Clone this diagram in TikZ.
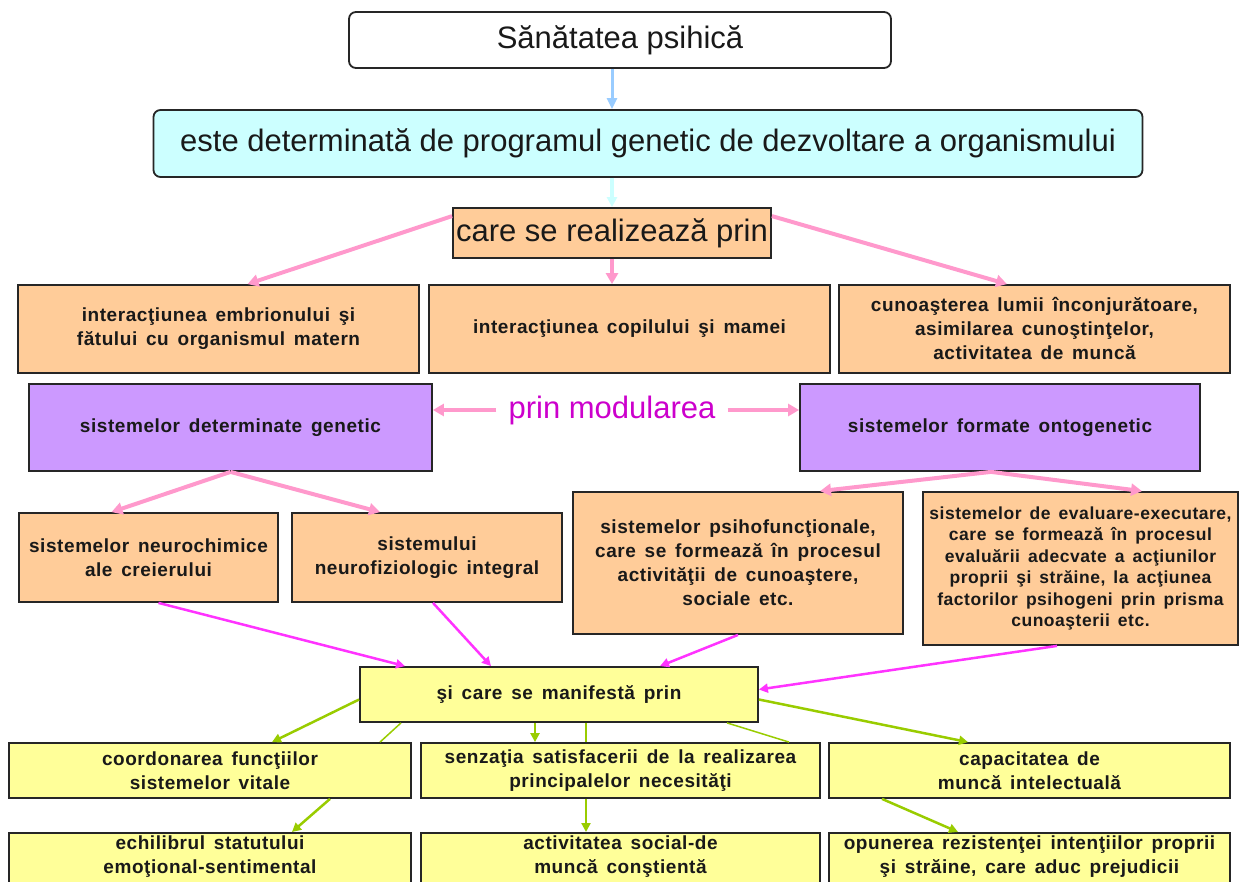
\documentclass[tikz,border=0pt]{standalone}
\usepackage{fontspec}
\setmainfont{Liberation Sans}
\newfontfamily\boxfont[LetterSpace=3,WordSpace=1.5]{Liberation Sans}
\usepackage{tikz}
\usetikzlibrary{arrows.meta}
\definecolor{peach}{HTML}{FFCC99}
\definecolor{lilac}{HTML}{CC99FF}
\definecolor{lemon}{HTML}{FFFF99}
\definecolor{icecyan}{HTML}{CCFFFF}
\definecolor{skyblue}{HTML}{99CCFF}
\definecolor{rosepink}{HTML}{FF99CC}
\definecolor{hotpink}{HTML}{FF33FF}
\definecolor{modviolet}{HTML}{CC00CC}
\definecolor{leafgreen}{HTML}{99CC00}
\tikzset{box/.style={draw=black!85,line width=1.8pt,inner sep=2pt,align=center,text=black!90,
            font=\boxfont\fontsize{19}{24}\selectfont\bfseries},
	 bigbox/.style={box,rounded corners=7pt,font=\fontsize{31}{36}\selectfont},
	 obox/.style={box,fill=peach},
	 vbox/.style={box,fill=lilac},
	 ybox/.style={box,fill=lemon},
	 pinkarr/.style={rosepink,line width=4pt,-{Triangle[length=11pt,width=12pt]}},
	 magarr/.style={hotpink,line width=2.5pt,-{Triangle[length=9pt,width=9pt]}},
	 grnarr/.style={leafgreen,line width=2.5pt,-{Triangle[length=9pt,width=9pt]}},
	 grnline/.style={leafgreen,line width=1.5pt}
	 }
\begin{document}
\begin{tikzpicture}[x=1pt,y=-1pt]% mental health concept map
        \useasboundingbox (0,0) rectangle (1243,882);
        \clip (0,0) rectangle (1243,882);
        \node[bigbox,minimum width=542,minimum height=56] (san) at (620,40) {Sănătatea psihică};
        \node[bigbox,fill=icecyan,minimum width=989,minimum height=67] (gen) at (648,143.5) {este determinată de programul genetic de dezvoltare a organismului};
        \node[obox,font=\fontsize{31}{36}\selectfont,minimum width=318,minimum height=50] (real) at (612,233) {care se realizează prin};
        \node[obox,minimum width=401,minimum height=88] (emb) at (218.5,329) {interacţiunea  embrionului şi\\fătului cu organismul matern};
        \node[obox,minimum width=401,minimum height=88] (cop) at (629.5,329) {interacţiunea  copilului şi mamei};
        \node[obox,minimum width=391,minimum height=88] (cun) at (1034.5,329) {cunoaşterea  lumii înconjurătoare,\\asimilarea  cunoştinţelor,\\activitatea de muncă};
        \node[vbox,minimum width=403,minimum height=87] (det) at (230.5,427.5) {sistemelor  determinate  genetic};
        \node[vbox,minimum width=400,minimum height=87] (ont) at (1000,427.5) {sistemelor  formate  ontogenetic};
        \node[text=modviolet,inner sep=12pt,font=\fontsize{31}{36}\selectfont] (mod) at (612,410) {prin modularea};
        \node[obox,minimum width=259,minimum height=89] (neu) at (148.5,557.5) {sistemelor  neurochimice\\ale creierului};
        \node[obox,minimum width=270,minimum height=89] (fiz) at (427,557.5) {sistemului\\neurofiziologic  integral};
        \node[obox,minimum width=330,minimum height=142] (psi) at (738,563) {sistemelor  psihofuncţionale,\\care  se formează în procesul\\activităţii de cunoaştere,\\sociale  etc.};
        \node[obox,font=\boxfont\fontsize{17.5}{21.5}\selectfont\bfseries,minimum width=315,minimum height=153] (eva) at (1080.5,568.5) {sistemelor  de evaluare-executare,\\care se formează  în  procesul\\evaluării adecvate a acţiunilor\\proprii  şi străine, la acţiunea\\factorilor  psihogeni  prin prisma\\cunoaşterii  etc.};
        \node[ybox,minimum width=398,minimum height=55] (man) at (559,694.5) {şi  care  se  manifestă  prin};
        \node[ybox,minimum width=402,minimum height=55] (coo) at (210,770.5) {coordonarea  funcţiilor\\sistemelor  vitale};
        \node[ybox,minimum width=399,minimum height=55] (sen) at (620.5,770.5) {senzaţia satisfacerii  de la realizarea\\principalelor  necesităţi};
        \node[ybox,minimum width=401,minimum height=55] (cap) at (1029.5,770.5) {capacitatea  de\\muncă intelectuală};
        \node[ybox,anchor=north,inner ysep=3pt,text depth=40pt,minimum width=402] (ech) at (210,832) {echilibrul  statutului\\emoţional-sentimental};
        \node[ybox,anchor=north,inner ysep=3pt,text depth=40pt,minimum width=399] (act) at (620.5,832) {activitatea social-de\\muncă conştientă};
        \node[ybox,anchor=north,inner ysep=3pt,text depth=40pt,minimum width=401] (opu) at (1029.5,832) {opunerea rezistenţei  intenţiilor  proprii\\şi străine, care aduc prejudicii};
        \draw[skyblue,line width=3pt,-{Triangle[length=11pt,width=10pt]}] (san.south -| real.north) to (gen.north -| real.north);
        \draw[icecyan,line width=3.5pt,-{Triangle[length=10pt,width=10pt]}] (gen.south -| real.north) to (real.north);
        \draw[pinkarr] ([yshift=-9pt]real.north west) to ([xshift=29pt]emb.north);
        \draw[pinkarr] (real.south) to (real.south |- cop.north);
        \draw[pinkarr] ([yshift=-9pt]real.north east) to ([xshift=-27.5pt]cun.north);
        \draw[pinkarr] (mod.west) to (mod.west -| det.east);
        \draw[pinkarr] (mod.east) to (mod.east -| ont.west);
        \draw[pinkarr] (det.south) to ([xshift=-37pt]neu.north);
        \draw[pinkarr] (det.south) to ([xshift=-47pt]fiz.north);
        \draw[pinkarr] ([xshift=-9pt]ont.south) to ([xshift=82pt]psi.north);
        \draw[pinkarr] ([xshift=-9pt]ont.south) to ([xshift=61.5pt]eva.north);
        \draw[magarr] ([xshift=10pt]neu.south) to ([xshift=-154pt]man.north);
        \draw[magarr] ([xshift=6pt]fiz.south) to ([xshift=-68pt]man.north);
        \draw[magarr] (psi.south) to ([xshift=101pt]man.north);
        \draw[magarr] ([xshift=-23.5pt]eva.south) to ([yshift=5pt]man.east);
        \draw[grnarr] ([yshift=-5pt]man.west) to ([xshift=62pt]coo.north);
        \draw[grnline] ([xshift=-158pt]man.south) to ([xshift=170pt]coo.north);
        \draw[grnarr] ([xshift=-24pt]man.south) to ([xshift=-24pt]man.south |- sen.north);
        \draw[grnline] ([xshift=27pt]man.south) to ([xshift=27pt]man.south |- sen.north);
        \draw[grnline] ([xshift=168pt]man.south) to ([xshift=168.5pt]sen.north);
        \draw[grnarr] ([yshift=-5pt]man.east) to ([xshift=-61.5pt]cap.north);
        \draw[grnarr] ([xshift=120pt]coo.south) to ([xshift=82pt]ech.north);
        \draw[grnarr] ([xshift=-34.5pt]sen.south) to ([xshift=-34.5pt]sen.south |- act.north);
        \draw[grnarr] ([xshift=-147.5pt]cap.south) to ([xshift=-71.5pt]opu.north);
\end{tikzpicture}
\end{document}
